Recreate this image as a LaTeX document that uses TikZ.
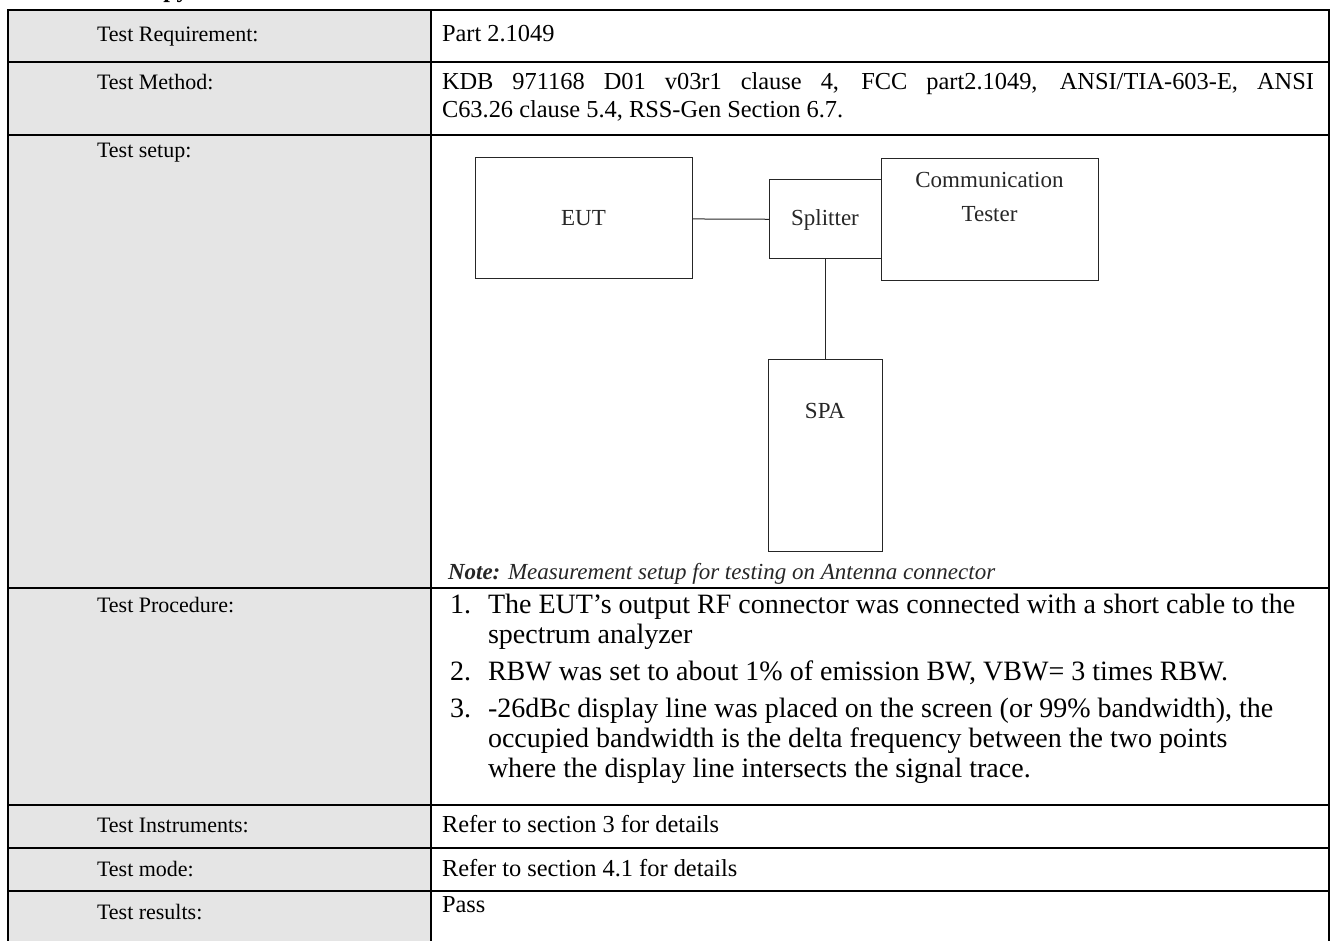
\documentclass[tikz,border=0pt]{standalone}
\usepackage{fontspec}
\setmainfont{Liberation Serif}
\usetikzlibrary{positioning}
\definecolor{cellgrey}{rgb}{0.9, 0.9, 0.9}
\definecolor{inkgrey}{rgb}{0.15, 0.15, 0.15}
\newcommand\rulew{1pt}
\newcommand\labx{97}
\newcommand\txtx{442}
\newcommand\numx{450}
\newcommand\itemx{488}

\begin{document}
\begin{tikzpicture}[x=0.5pt, y=-0.5pt, every node/.style={inner sep=0pt, outer sep=0pt},
    rowlabel/.style={anchor=base west, font=\fontsize{11}{13}\selectfont},
    celltext/.style={anchor=base west, font=\fontsize{12.2}{14}\selectfont},
    proctext/.style={anchor=base west, font=\fontsize{14}{16}\selectfont},
    unitbox/.style={draw=black!85, line width=0.5pt, font=\fontsize{11.5}{13}\selectfont, text=inkgrey}]
    \useasboundingbox (0,0) rectangle (1333,941);
    \clip (0,0) rectangle (1333,941);

    \node (head) [anchor=base west, font=\bfseries\fontsize{12}{14}\selectfont] at (110,-2) {Occupy Bandwidth};

    % table
    \fill[cellgrey] (8,10) rectangle (431,941);
    \draw[line width=\rulew] (8,941) -- (8,10) -- (1329,10) -- (1329,941);
    \draw[line width=\rulew] (431,10) -- (431,941);
    \foreach \y in {62,135,588,805,848,891}
        \draw[line width=\rulew] (8,\y) -- (1329,\y);

    \node (req) [rowlabel] at (\labx,42) {Test Requirement:};
    \node (meth) [rowlabel] at (\labx,90) {Test Method:};
    \node (setup) [rowlabel] at (\labx,158) {Test setup:};
    \node (proc) [rowlabel] at (\labx,612) {Test Procedure:};
    \node (inst) [rowlabel] at (\labx,832) {Test Instruments:};
    \node (mode) [rowlabel] at (\labx,876) {Test mode:};
    \node (res) [rowlabel] at (\labx,919) {Test results:};

    \node (reqv) [celltext] at (\txtx,42) {Part 2.1049};
    \node (methv) [celltext] at (\txtx,90) {\makebox[436pt][s]{KDB 971168 D01 v03r1 clause 4, FCC part2.1049, ANSI/TIA-603-E, ANSI}};
    \node (methw) [celltext] at (\txtx,118) {C63.26 clause 5.4, RSS-Gen Section 6.7.};
    \node (instv) [celltext] at (\txtx,832) {Refer to section 3 for details};
    \node (modev) [celltext] at (\txtx,876) {Refer to section 4.1 for details};
    \node (resv) [celltext] at (\txtx,912) {Pass};

    % setup drawing
    \node (eut) [unitbox, minimum width=108.5pt, minimum height=60.5pt] at (583.5,218.5) {EUT};
    \node (split) [unitbox, minimum width=56pt, minimum height=39.5pt] at (825,219.5) {Splitter};
    \node (comm) [unitbox, minimum width=108.5pt, minimum height=61pt, right=0pt of split] {};
    \node (commtxt) [below=7pt of comm.north, align=center, font=\fontsize{11.5}{17}\selectfont, text=inkgrey] {Communication\\Tester};
    \node (spa) [unitbox, minimum width=57pt, minimum height=96pt, below=50pt of split] {};
    \node (spatxt) [below=22pt of spa.north, font=\fontsize{11.5}{13}\selectfont, text=inkgrey] {SPA};

    \draw[black!85, line width=0.5pt] (eut) -- (split);
    \draw[black!85, line width=0.5pt] (split.south) -- (split.south |- spa.north);

    \node (note) [anchor=base west, font=\itshape\fontsize{11.5}{13}\selectfont, text=inkgrey] at (448,579) {\textbf{Note:} Measurement setup for testing on Antenna connector};

    % procedure
    \node (n1) [proctext] at (\numx,613) {1.};
    \node (p1a) [proctext] at (\itemx,613) {The EUT’s output RF connector was connected with a short cable to the};
    \node (p1b) [proctext] at (\itemx,643) {spectrum analyzer};
    \node (n2) [proctext] at (\numx,680) {2.};
    \node (p2a) [proctext] at (\itemx,680) {RBW was set to about 1\% of emission BW, VBW= 3 times RBW.};
    \node (n3) [proctext] at (\numx,717) {3.};
    \node (p3a) [proctext] at (\itemx,717) {-26dBc display line was placed on the screen (or 99\% bandwidth), the};
    \node (p3b) [proctext] at (\itemx,747) {occupied bandwidth is the delta frequency between the two points};
    \node (p3c) [proctext] at (\itemx,777) {where the display line intersects the signal trace.};
\end{tikzpicture}
\end{document}
